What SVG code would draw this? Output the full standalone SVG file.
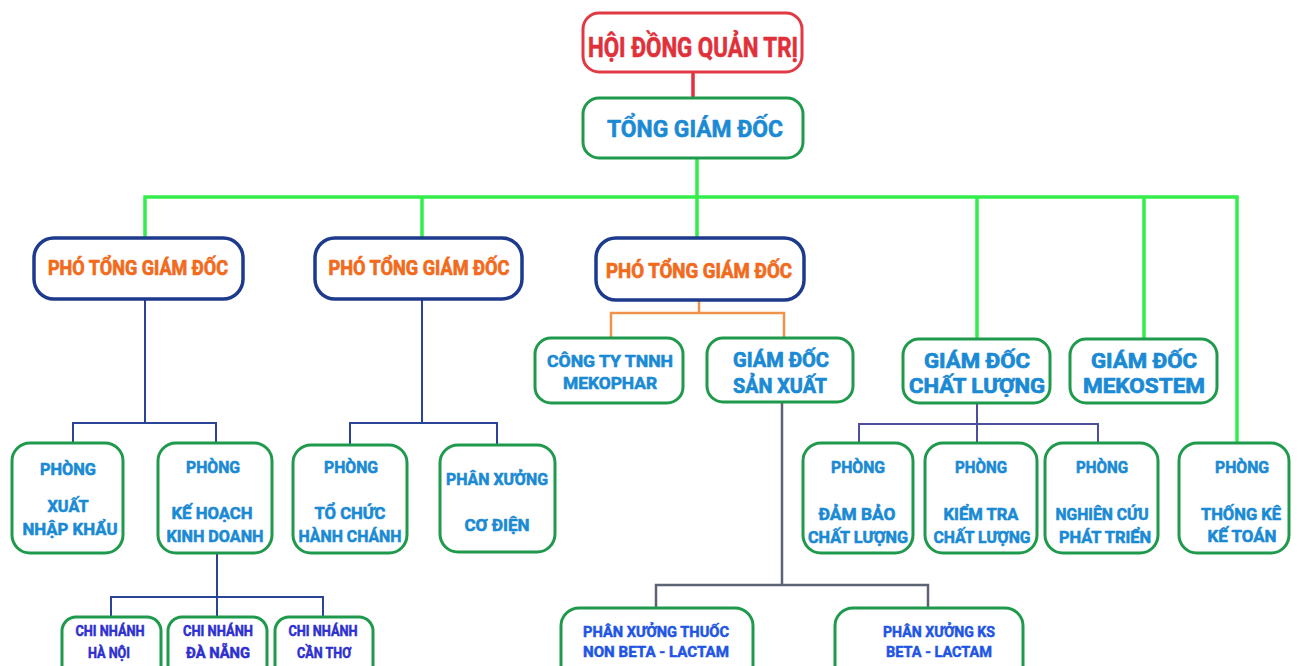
<svg xmlns="http://www.w3.org/2000/svg" width="1300" height="666" viewBox="0 0 1300 666">
<style>
.g{fill:#fff;stroke:#1f9a4c;stroke-width:3}
.n{fill:#fff;stroke:#1d3a8c;stroke-width:3.5}
.r{fill:#fff;stroke:#e23a44;stroke-width:3}
text{font-family:Roboto,"Liberation Sans",sans-serif;font-weight:700;text-anchor:middle;stroke-width:0.6;stroke-linejoin:round}
.b{fill:#1a8ad4;stroke:#1a8ad4;font-size:17px}
.b2{fill:#1a8ad4;stroke:#1a8ad4;font-size:20px;stroke-width:0.7}
.o{fill:#f26a1b;stroke:#f26a1b;font-size:20px;stroke-width:0.7}
.cn{fill:#2e2fd0;stroke:#2e2fd0;font-size:14px;stroke-width:0.5}
.px{fill:#1f55e4;stroke:#1f55e4;font-size:15px;stroke-width:0.5}
.cg{stroke:#33ee4a;stroke-width:3.5;fill:none}
.cr{stroke:#e0323e;stroke-width:3.5;fill:none}
.cnv{stroke:#2a4396;stroke-width:2;fill:none}
.cp{stroke:#4d4f9e;stroke-width:2;fill:none}
.cgr{stroke:#5c6372;stroke-width:2.5;fill:none}
.co{stroke:#f0924a;stroke-width:2.5;fill:none}
</style>
<rect width="1300" height="666" fill="#fff"/>
<g id="connectors">
<path class="cr" d="M693 72V98"/>
<path class="cg" d="M697 158V197M145 238V197H1237V443M422 197V238M697 197V238M977 197V339M1144 197V339"/>
<path class="cnv" d="M145 299V423M73 443V423H216V443M422 299V423M350 445V423H497V445M217 553V597M111 617V597H323V617M217 597V617"/>
<path class="co" d="M699 300V313M611 338V313H784V338"/>
<path class="cgr" d="M782 402V585M656 608V585H928V608"/>
<path class="cp" d="M977 403V424M859 443V424H1098V443M977 424V443"/>
</g>
<g id="hdqt"><rect class="r" x="583" y="13" width="219" height="59" rx="16"/><text x="693" y="57" font-size="28" fill="#e0303a" stroke="#e0303a" stroke-width="0.9" textLength="210" lengthAdjust="spacingAndGlyphs">HỘI ĐỒNG QUẢN TRỊ</text></g>
<g id="tgd"><rect class="g" x="583" y="98" width="220" height="60" rx="16"/><text x="695" y="137" font-size="24" fill="#1a8ad4" stroke="#1a8ad4" stroke-width="0.8" textLength="176" lengthAdjust="spacingAndGlyphs">TỔNG GIÁM ĐỐC</text></g>
<g id="ptgd1"><rect class="n" x="34" y="238" width="209" height="61" rx="20"/><text class="o" x="138" y="275" textLength="180" lengthAdjust="spacingAndGlyphs">PHÓ TỔNG GIÁM ĐỐC</text></g>
<g id="ptgd2"><rect class="n" x="315" y="238" width="207" height="61" rx="20"/><text class="o" x="419" y="275" textLength="181" lengthAdjust="spacingAndGlyphs">PHÓ TỔNG GIÁM ĐỐC</text></g>
<g id="ptgd3"><rect class="n" x="596" y="238" width="208" height="62" rx="20"/><text class="o" x="699" y="278" textLength="186" lengthAdjust="spacingAndGlyphs">PHÓ TỔNG GIÁM ĐỐC</text></g>
<g id="mekophar"><rect class="g" x="535" y="338" width="148" height="65" rx="16"/><text class="b" font-size="18" x="610" y="367" textLength="126" lengthAdjust="spacingAndGlyphs">CÔNG TY TNNH</text><text class="b" font-size="18" x="610" y="389" textLength="94" lengthAdjust="spacingAndGlyphs">MEKOPHAR</text></g>
<g id="gdsx"><rect class="g" x="707" y="338" width="146" height="64" rx="16"/><text class="b2" x="781" y="367" textLength="96" lengthAdjust="spacingAndGlyphs">GIÁM ĐỐC</text><text class="b2" x="780" y="393" textLength="94" lengthAdjust="spacingAndGlyphs">SẢN XUẤT</text></g>
<g id="gdcl"><rect class="g" x="903" y="339" width="147" height="64" rx="16"/><text class="b2" font-size="21" x="977" y="368" textLength="106" lengthAdjust="spacingAndGlyphs">GIÁM ĐỐC</text><text class="b2" font-size="21" x="977" y="393" textLength="136" lengthAdjust="spacingAndGlyphs">CHẤT LƯỢNG</text></g>
<g id="mekostem"><rect class="g" x="1070" y="339" width="147" height="64" rx="16"/><text class="b2" font-size="21" x="1144" y="368" textLength="106" lengthAdjust="spacingAndGlyphs">GIÁM ĐỐC</text><text class="b2" font-size="21" x="1144" y="393" textLength="122" lengthAdjust="spacingAndGlyphs">MEKOSTEM</text></g>
<g id="xnk"><rect class="g" x="12" y="443" width="111" height="110" rx="18"/><text class="b" x="68" y="475" textLength="56" lengthAdjust="spacingAndGlyphs">PHÒNG</text><text class="b" x="68" y="512" textLength="41" lengthAdjust="spacingAndGlyphs">XUẤT</text><text class="b" x="70" y="535" textLength="95" lengthAdjust="spacingAndGlyphs">NHẬP KHẨU</text></g>
<g id="khkd"><rect class="g" x="158" y="443" width="114" height="110" rx="18"/><text class="b" x="213" y="473" textLength="54" lengthAdjust="spacingAndGlyphs">PHÒNG</text><text class="b" x="212" y="519" textLength="81" lengthAdjust="spacingAndGlyphs">KẾ HOẠCH</text><text class="b" x="215" y="542" textLength="97" lengthAdjust="spacingAndGlyphs">KINH DOANH</text></g>
<g id="tchc"><rect class="g" x="293" y="445" width="114" height="108" rx="18"/><text class="b" x="351" y="473" textLength="54" lengthAdjust="spacingAndGlyphs">PHÒNG</text><text class="b" x="350" y="519" textLength="71" lengthAdjust="spacingAndGlyphs">TỔ CHỨC</text><text class="b" x="350" y="542" textLength="103" lengthAdjust="spacingAndGlyphs">HÀNH CHÁNH</text></g>
<g id="pxcd"><rect class="g" x="440" y="445" width="115" height="107" rx="18"/><text class="b" x="497" y="485" textLength="102" lengthAdjust="spacingAndGlyphs">PHÂN XƯỞNG</text><text class="b" x="497" y="531" textLength="65" lengthAdjust="spacingAndGlyphs">CƠ ĐIỆN</text></g>
<g id="dbcl"><rect class="g" x="803" y="443" width="110" height="110" rx="18"/><text class="b" x="858" y="473" textLength="54" lengthAdjust="spacingAndGlyphs">PHÒNG</text><text class="b" x="857" y="520" textLength="77" lengthAdjust="spacingAndGlyphs">ĐẢM BẢO</text><text class="b" x="858" y="543" textLength="100" lengthAdjust="spacingAndGlyphs">CHẤT LƯỢNG</text></g>
<g id="ktcl"><rect class="g" x="925" y="443" width="112" height="110" rx="18"/><text class="b" x="981" y="473" textLength="52" lengthAdjust="spacingAndGlyphs">PHÒNG</text><text class="b" x="981" y="520" textLength="75" lengthAdjust="spacingAndGlyphs">KIỂM TRA</text><text class="b" x="982" y="543" textLength="97" lengthAdjust="spacingAndGlyphs">CHẤT LƯỢNG</text></g>
<g id="ncpt"><rect class="g" x="1045" y="443" width="113" height="110" rx="18"/><text class="b" x="1102" y="473" textLength="52" lengthAdjust="spacingAndGlyphs">PHÒNG</text><text class="b" x="1102" y="520" textLength="93" lengthAdjust="spacingAndGlyphs">NGHIÊN CỨU</text><text class="b" x="1105" y="543" textLength="92" lengthAdjust="spacingAndGlyphs">PHÁT TRIỂN</text></g>
<g id="tkkt"><rect class="g" x="1179" y="443" width="110" height="110" rx="18"/><text class="b" x="1242" y="473" textLength="54" lengthAdjust="spacingAndGlyphs">PHÒNG</text><text class="b" x="1241" y="520" textLength="80" lengthAdjust="spacingAndGlyphs">THỐNG KÊ</text><text class="b" x="1242" y="542" textLength="69" lengthAdjust="spacingAndGlyphs">KẾ TOÁN</text></g>
<g id="cnhn"><rect class="g" x="62" y="617" width="99" height="70" rx="14"/><text class="cn" x="110" y="636" textLength="69" lengthAdjust="spacingAndGlyphs">CHI NHÁNH</text><text class="cn" x="109" y="658" textLength="42" lengthAdjust="spacingAndGlyphs">HÀ NỘI</text></g>
<g id="cndn"><rect class="g" x="168" y="617" width="99" height="70" rx="14"/><text class="cn" x="218" y="636" textLength="70" lengthAdjust="spacingAndGlyphs">CHI NHÁNH</text><text class="cn" x="218" y="658" textLength="64" lengthAdjust="spacingAndGlyphs">ĐÀ NẴNG</text></g>
<g id="cnct"><rect class="g" x="275" y="617" width="98" height="70" rx="14"/><text class="cn" x="323" y="636" textLength="69" lengthAdjust="spacingAndGlyphs">CHI NHÁNH</text><text class="cn" x="324" y="658" textLength="54" lengthAdjust="spacingAndGlyphs">CẦN THƠ</text></g>
<g id="pxnbl"><rect class="g" x="561" y="608" width="192" height="80" rx="18"/><text class="px" x="656" y="637" textLength="146" lengthAdjust="spacingAndGlyphs">PHÂN XƯỞNG THUỐC</text><text class="px" x="656" y="657" textLength="146" lengthAdjust="spacingAndGlyphs">NON BETA - LACTAM</text></g>
<g id="pxks"><rect class="g" x="835" y="608" width="188" height="80" rx="18"/><text class="px" x="939" y="637" textLength="112" lengthAdjust="spacingAndGlyphs">PHÂN XƯỞNG KS</text><text class="px" x="939" y="657" textLength="106" lengthAdjust="spacingAndGlyphs">BETA - LACTAM</text></g>
</svg>
